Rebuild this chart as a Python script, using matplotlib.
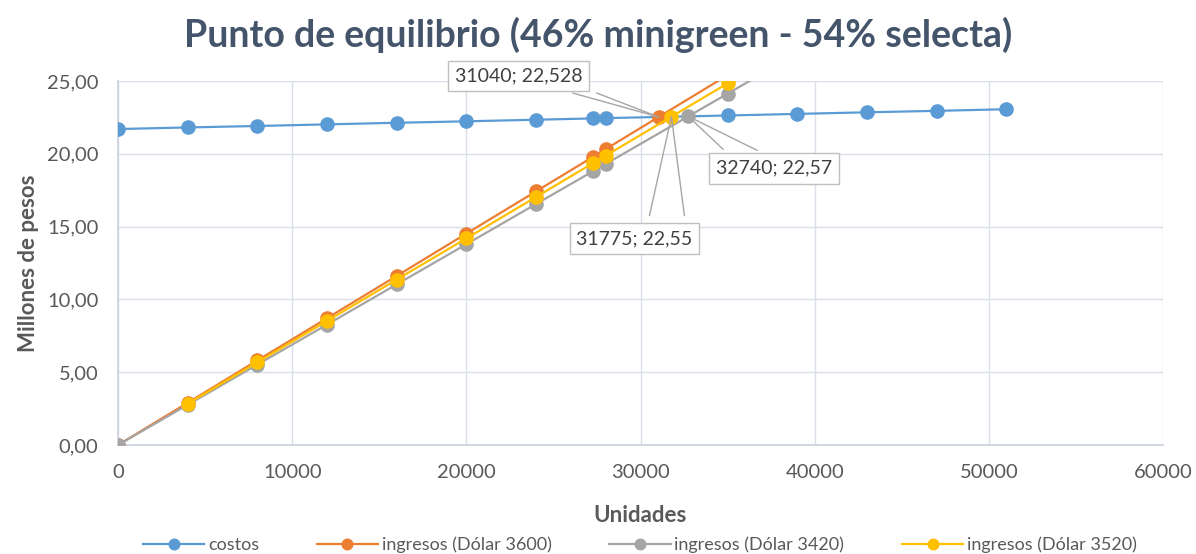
import matplotlib.pyplot as plt
import numpy as np

# datos
x_costos = [0, 4000, 8000, 12000, 16000, 20000, 24000, 27300, 28000, 35000, 39000, 43000, 47000, 51000]
costos = [21.70, 21.81, 21.91, 22.02, 22.13, 22.23, 22.34, 22.43, 22.45, 22.63, 22.74, 22.85, 22.95, 23.06]

x_3600 = [0, 4000, 8000, 12000, 16000, 20000, 24000, 27300, 28000, 31040, 35000]
ing_3600 = [0, 2.90, 5.81, 8.71, 11.61, 14.52, 17.42, 19.81, 20.32, 22.528, 25.40]

x_3420 = [0, 4000, 8000, 12000, 16000, 20000, 24000, 27300, 28000, 32740, 35000, 39000]
ing_3420 = [0, 2.76, 5.52, 8.27, 11.03, 13.79, 16.55, 18.82, 19.30, 22.57, 24.13, 26.89]

x_3520 = [4000, 8000, 12000, 16000, 20000, 24000, 27300, 28000, 31775, 35000]
ing_3520 = [2.84, 5.68, 8.52, 11.36, 14.19, 17.03, 19.38, 19.87, 22.55, 24.84]

equilibrios = [(31040, 22.528, '31040; 22,528'), (32740, 22.57, '32740; 22,57'), (31775, 22.55, '31775; 22,55')]

plt.rcParams['font.family'] = ['Lato', 'DejaVu Sans']
txt = '#595959'

fig = plt.figure(figsize=(11.96, 5.54), dpi=100)
ax = fig.add_axes([0.0987, 0.1968, 0.8737, 0.657])

series = [
    (x_costos, costos, '#5B9BD5', 'costos'),
    (x_3600, ing_3600, '#ED7D31', 'ingresos (Dólar 3600)'),
    (x_3420, ing_3420, '#A5A5A5', 'ingresos (Dólar 3420)'),
    (x_3520, ing_3520, '#FFC000', 'ingresos (Dólar 3520)'),
]
for xs, ys, c, lab in series:
    visibles = [y <= 25 for y in ys]
    ax.plot(xs, ys, color=c, lw=1.6, marker='o', ms=9.5, markevery=visibles,
            label=lab, zorder=3)

ax.set_xlim(0, 60000)
ax.set_ylim(0, 25)
ax.set_xticks(np.arange(0, 60001, 10000))
ax.set_yticks(np.arange(0, 25.1, 5))
ax.set_yticklabels([f'{v:.2f}'.replace('.', ',') for v in np.arange(0, 25.1, 5)])
ax.grid(True, color='#D9DEE8', lw=1)
ax.set_axisbelow(True)
for s in ['top', 'right']:
    ax.spines[s].set_visible(False)
for s in ['left', 'bottom']:
    ax.spines[s].set_color('#C9D1DF')
    ax.spines[s].set_linewidth(1.2)
ax.tick_params(axis='y', length=0, labelsize=14.5, colors=txt, pad=14)
ax.tick_params(axis='x', length=0, labelsize=14.5, colors=txt, pad=14)

ax.set_xlabel('Unidades', fontsize=16, fontweight='bold', color=txt, labelpad=17)
ax.set_ylabel('Millones de pesos', fontsize=16, fontweight='bold', color=txt, labelpad=6)
fig.suptitle('Punto de equilibrio (46% minigreen - 54% selecta)', x=0.5, y=0.97,
             fontsize=27, fontweight='bold', color='#44546A')

# etiquetas de los puntos de equilibrio con lineas guia
offsets = [(-140, 41), (86, -52), (-37, -122)]
guias = [[(-86, 24), (-62, 24)], [(35, -33), (69, -34)], [(-22, -99), (13, -99)]]
for (ex, ey, lab), off, gs in zip(equilibrios, offsets, guias):
    for g in gs:
        ax.annotate('', xy=(ex, ey), xytext=g, textcoords='offset pixels',
                    arrowprops=dict(arrowstyle='-', color='#A6A6A6', lw=1,
                                    shrinkA=0, shrinkB=0), zorder=5)
    ax.annotate(lab, xy=(ex, ey), xytext=off, textcoords='offset pixels',
                ha='center', va='center', fontsize=14, color='#404040', zorder=6,
                bbox=dict(boxstyle='square,pad=0.35', fc='white', ec='#BFBFBF', lw=1))

fig.legend(loc='center', bbox_to_anchor=(0.535, 0.017), ncol=4, frameon=False,
           fontsize=13, labelcolor=txt, handlelength=3.4, handletextpad=0.2,
           columnspacing=3.2, markerscale=0.8)

fig.savefig('out.png', dpi=100)
